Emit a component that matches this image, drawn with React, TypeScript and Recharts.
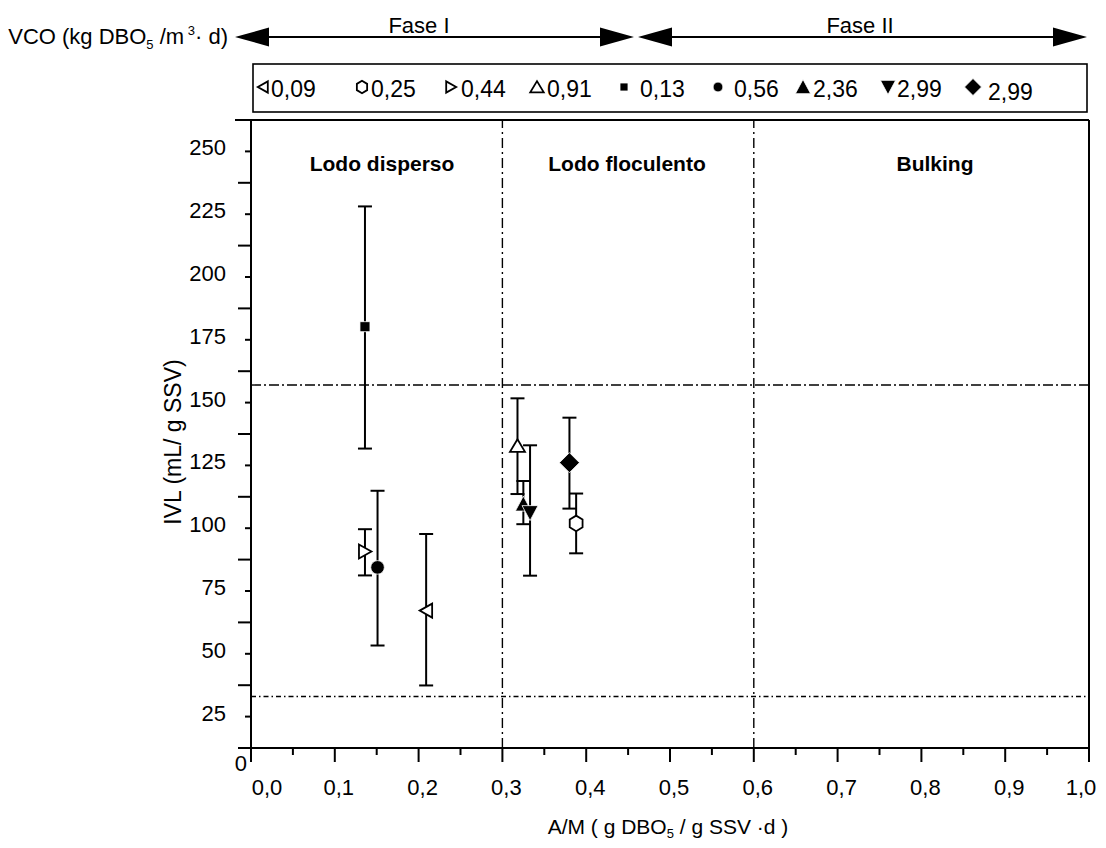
import React from 'react';
import { ScatterChart, Scatter, XAxis, YAxis, ErrorBar, ReferenceLine } from 'recharts';

// ---- data ----
const seriesNames = ['0,09', '0,25', '0,44', '0,91', '0,13', '0,56', '2,36', '2,99', '2,99'];
const seriesShapes = ['triLeftOpen', 'hexOpen', 'triRightOpen', 'triUpOpen', 'square', 'circle', 'triUp', 'triDown', 'diamond'];
const amValues = [0.209, 0.388, 0.136, 0.318, 0.136, 0.151, 0.325, 0.333, 0.380];
const ivlValues = [67.2, 101.9, 90.7, 132.8, 180.2, 84.4, 109.6, 106.2, 126.1];
const ivlLow = [37.4, 90.0, 81.2, 113.6, 131.7, 53.3, 101.6, 81.1, 107.8];
const ivlHigh = [97.7, 113.8, 99.6, 151.7, 228.1, 114.9, 118.8, 133.0, 144.0];

const xTicks = [0, 0.05, 0.1, 0.15, 0.2, 0.25, 0.3, 0.35, 0.4, 0.45, 0.5, 0.55, 0.6, 0.65, 0.7, 0.75, 0.8, 0.85, 0.9, 0.95, 1.0];
const xTickLabels = ['0,0', '0,1', '0,2', '0,3', '0,4', '0,5', '0,6', '0,7', '0,8', '0,9', '1,0'];
const yTicks = [12.5, 25, 37.5, 50, 62.5, 75, 87.5, 100, 112.5, 125, 137.5, 150, 162.5, 175, 187.5, 200, 212.5, 225, 237.5, 250, 262.5];
const yTickLabels = ['25', '50', '75', '100', '125', '150', '175', '200', '225', '250'];

const ivlUpperLimit = 157;
const ivlLowerLimit = 33;
const amLimits = [0.3, 0.6];
const regionLabels = ['Lodo disperso', 'Lodo floculento', 'Bulking'];
const phaseLabels = ['Fase I', 'Fase II'];

const FONT = "'Liberation Sans', Arial, Helvetica, sans-serif";

const points = amValues.map((am, i) => ({
  am,
  ivl: ivlValues[i],
  err: [ivlValues[i] - ivlLow[i], ivlHigh[i] - ivlValues[i]],
}));

// ---- marker shapes ----
function Marker({ kind, cx, cy, s = 1 }: { kind: string; cx: number; cy: number; s?: number }) {
  const open = { fill: '#fff', stroke: '#000', strokeWidth: 1.8, strokeLinejoin: 'miter' as const };
  const solid = { fill: '#000', stroke: '#fff', strokeWidth: 0.8 };
  const k = s;
  switch (kind) {
    case 'triLeftOpen':
      return <polygon points={`${cx - 6.5 * k},${cy} ${cx + 6 * k},${cy - 7 * k} ${cx + 6 * k},${cy + 7 * k}`} {...open} />;
    case 'triRightOpen':
      return <polygon points={`${cx + 6.5 * k},${cy} ${cx - 6 * k},${cy - 7 * k} ${cx - 6 * k},${cy + 7 * k}`} {...open} />;
    case 'triUpOpen':
      return <polygon points={`${cx},${cy - 6.5 * k} ${cx - 7.5 * k},${cy + 6 * k} ${cx + 7.5 * k},${cy + 6 * k}`} {...open} />;
    case 'hexOpen': {
      const r = 7.8 * k;
      const pts = [0, 1, 2, 3, 4, 5]
        .map((j) => {
          const a = (Math.PI / 180) * (90 + 60 * j);
          return `${cx + r * Math.cos(a) * 0.95},${cy - r * Math.sin(a)}`;
        })
        .join(' ');
      return <polygon points={pts} {...open} />;
    }
    case 'square':
      return <rect x={cx - 5 * k} y={cy - 5 * k} width={10 * k} height={10 * k} {...solid} />;
    case 'circle':
      return <circle cx={cx} cy={cy} r={6.8 * k} {...solid} />;
    case 'triUp':
      return <polygon points={`${cx},${cy - 8 * k} ${cx - 8 * k},${cy + 7 * k} ${cx + 8 * k},${cy + 7 * k}`} {...solid} />;
    case 'triDown':
      return <polygon points={`${cx},${cy + 8 * k} ${cx - 8 * k},${cy - 7 * k} ${cx + 8 * k},${cy - 7 * k}`} {...solid} />;
    case 'diamond':
      return <polygon points={`${cx},${cy - 10 * k} ${cx + 10 * k},${cy} ${cx},${cy + 10 * k} ${cx - 10 * k},${cy}`} {...solid} />;
    default:
      return null;
  }
}

// ---- axis ticks ----
const YTick = (props: any) => {
  const { x, y, payload } = props;
  const v: number = payload.value;
  const idx = yTicks.indexOf(v);
  const labelled = Math.abs(v % 25) < 1e-6;
  if (labelled) {
    const label = yTickLabels[Math.round(v / 25) - 1];
    return (
      <g>
        <line x1={x - 6} x2={x} y1={y} y2={y} stroke="#000" strokeWidth={2} />
        <text x={x - 25} y={y + 4} textAnchor="end" fontFamily={FONT} fontSize={22} fill="#000">
          {label}
        </text>
      </g>
    );
  }
  const len = idx === yTicks.length - 1 ? 16 : 13;
  return (
    <g>
      <line x1={x - len} x2={x} y1={y} y2={y} stroke="#000" strokeWidth={2} />
      {idx === 0 && (
        <text x={x - 4} y={y + 23} textAnchor="end" fontFamily={FONT} fontSize={22} fill="#000">
          0
        </text>
      )}
    </g>
  );
};

const XTick = (props: any) => {
  const { x, y, index } = props;
  const major = index % 2 === 0;
  const labelIdx = index / 2;
  let dx = 4;
  if (labelIdx === 0) dx = 16;
  if (labelIdx === xTickLabels.length - 1) dx = -8;
  return (
    <g>
      <line x1={x} x2={x} y1={y} y2={y + (major ? 14 : 7)} stroke="#000" strokeWidth={2} />
      {major && (
        <text x={x + dx} y={y + 47} textAnchor="middle" fontFamily={FONT} fontSize={22} fill="#000">
          {xTickLabels[labelIdx]}
        </text>
      )}
    </g>
  );
};

// ---- overlay (titles, legend, annotations) ----
const legendSymbolX = [263, 362, 451, 537, 624, 718, 803, 888, 973];
const legendSymbolScale = [0.8, 0.8, 0.8, 0.9, 0.8, 0.72, 0.95, 0.95, 0.85];
const legendTextX = [271, 371, 461, 547, 640, 734, 813, 897, 988];

function Overlay() {
  const arrow = (x1: number, x2: number, y: number) => (
    <g>
      <line x1={x1 + 20} x2={x2 - 20} y1={y} y2={y} stroke="#000" strokeWidth={2} />
      <polygon points={`${x1},${y} ${x1 + 34},${y - 9.5} ${x1 + 34},${y + 9.5}`} fill="#000" />
      <polygon points={`${x2},${y} ${x2 - 34},${y - 9.5} ${x2 - 34},${y + 9.5}`} fill="#000" />
    </g>
  );
  return (
    <svg
      width={1106}
      height={848}
      style={{ position: 'absolute', left: -8, top: -8, pointerEvents: 'none' }}
    >
      {/* VCO header */}
      <text x={228} y={44} textAnchor="end" fontFamily={FONT} fontSize={22} fill="#000">
        VCO (kg DBO<tspan fontSize={13} dy={5}>5</tspan>
        <tspan dy={-5}> /m</tspan>
        <tspan fontSize={13} dy={-9}> 3</tspan>
        <tspan dy={9}>· d)</tspan>
      </text>
      {arrow(235, 634, 37)}
      {arrow(638, 1087, 37)}
      <text x={419} y={33} textAnchor="middle" fontFamily={FONT} fontSize={22} fill="#000">
        {phaseLabels[0]}
      </text>
      <text x={860} y={33} textAnchor="middle" fontFamily={FONT} fontSize={22} fill="#000">
        {phaseLabels[1]}
      </text>

      {/* legend */}
      <rect x={253} y={64} width={834} height={48} fill="#fff" stroke="#000" strokeWidth={1.6} />
      {seriesNames.map((name, i) => (
        <g key={i}>
          <Marker kind={seriesShapes[i]} cx={legendSymbolX[i]} cy={87} s={legendSymbolScale[i]} />
          <text
            x={legendTextX[i]}
            y={i === 8 ? 100 : 97}
            fontFamily={FONT}
            fontSize={23}
            fill="#000"
          >
            {name}
          </text>
        </g>
      ))}

      {/* region labels */}
      <text x={382} y={171} textAnchor="middle" fontFamily={FONT} fontWeight="bold" fontSize={21} fill="#000">
        {regionLabels[0]}
      </text>
      <text x={627} y={171} textAnchor="middle" fontFamily={FONT} fontWeight="bold" fontSize={21} fill="#000">
        {regionLabels[1]}
      </text>
      <text x={935} y={171} textAnchor="middle" fontFamily={FONT} fontWeight="bold" fontSize={21} fill="#000">
        {regionLabels[2]}
      </text>

      {/* axis titles */}
      <text
        x={173}
        y={442}
        transform="rotate(-90 173 442)"
        textAnchor="middle"
        dominantBaseline="central"
        fontFamily={FONT}
        fontSize={23}
        fill="#000"
      >
        IVL (mL/ g SSV)
      </text>
      <text x={668} y={834} textAnchor="middle" fontFamily={FONT} fontSize={21} fill="#000">
        A/M ( g DBO<tspan fontSize={13} dy={4}>5</tspan>
        <tspan dy={-4}> / g SSV ·d )</tspan>
      </text>
    </svg>
  );
}

export default function App() {
  return (
    <div style={{ position: 'relative', width: 1098, height: 832, background: '#fff' }}>
      <ScatterChart
        width={1098}
        height={832}
        margin={{ top: 112, right: 17, bottom: 32, left: 183 }}
      >
        <XAxis
          type="number"
          dataKey="am"
          domain={[0, 1]}
          ticks={xTicks}
          interval={0}
          tickSize={0}
          tickMargin={0}
          tick={<XTick />}
          axisLine={{ stroke: '#000', strokeWidth: 2 }}
          tickLine={false}
          height={60}
          allowDataOverflow
        />
        <YAxis
          type="number"
          dataKey="ivl"
          domain={[12.5, 262.5]}
          ticks={yTicks}
          interval={0}
          tickSize={0}
          tickMargin={0}
          tick={<YTick />}
          axisLine={{ stroke: '#000', strokeWidth: 2 }}
          tickLine={false}
          width={60}
          allowDataOverflow
        />
        <ReferenceLine y={262.5} stroke="#000" strokeWidth={2} />
        <ReferenceLine x={1} stroke="#000" strokeWidth={2} />
        <ReferenceLine y={ivlUpperLimit} stroke="#000" strokeWidth={1.4} strokeDasharray="10 3 2 3" />
        <ReferenceLine y={ivlLowerLimit} stroke="#000" strokeWidth={1.4} strokeDasharray="5 3 1.5 3" />
        {amLimits.map((a) => (
          <ReferenceLine key={a} x={a} stroke="#000" strokeWidth={1.4} strokeDasharray="10 4 2 4" />
        ))}
        {/* error bars first */}
        {points.map((p, i) => (
          <Scatter
            key={'e' + i}
            data={[p]}
            isAnimationActive={false}
            shape={() => <g />}
          >
            <ErrorBar dataKey="err" direction="y" width={7} stroke="#000" strokeWidth={2} isAnimationActive={false} />
          </Scatter>
        ))}
        {/* markers on top */}
        {points.map((p, i) => (
          <Scatter
            key={'m' + i}
            name={seriesNames[i]}
            data={[p]}
            isAnimationActive={false}
            shape={(props: any) => <Marker kind={seriesShapes[i]} cx={props.cx} cy={props.cy} />}
          />
        ))}
      </ScatterChart>
      <Overlay />
    </div>
  );
}
